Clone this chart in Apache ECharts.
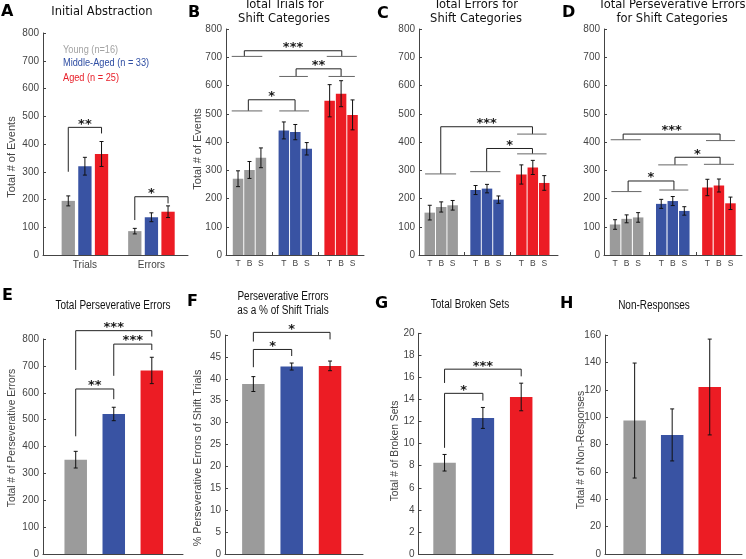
<!DOCTYPE html>
<html><head><meta charset="utf-8">
<script src="https://cdn.jsdelivr.net/npm/echarts@6/dist/echarts.min.js"></script>
<style>html,body{margin:0;padding:0;background:#fff}#c{width:746px;height:559px}</style>
</head><body><div id="c"></div>
<script>
// ---------- data ----------
const groupNames = ['Young (n=16)', 'Middle-Aged (n = 33)', 'Aged (n = 25)'];
const aCategories = ['Trials', 'Errors'];
const aTrialsMean = [195, 320, 364];
const aTrialsSem = [18, 32, 45];
const aErrorsMean = [86, 136, 156];
const aErrorsSem = [10, 16, 21];
const aSig = [[0, 2, 460, 300, 438, '**'], [4, 6, 210, 126, 186, '*']];

const shiftCats = ['T', 'B', 'S'];
const bMean = [[270, 301, 344], [441, 435, 376], [546, 571, 496]];
const bSem = [[28, 30, 35], [30, 27, 22], [57, 46, 53]];
const bSig = [
  [0.55, 9.06, 723, 703, 703, '***', [-0.55, 2.12], [7.75, 10.37]],
  [5.07, 9.0, 659, 632, 632, '**', [3.6, 6.1], [7.9, 10.2]],
  [0.9, 4.98, 549.5, 510, 510, '*', [-0.55, 2.12], [3.6, 6.2]]
];
const cMean = [[150, 170, 176], [230, 235, 196], [285, 310, 255]];
const cSem = [[26, 18, 17], [16, 15, 13], [34, 25, 26]];
const cSig = [
  [0.96, 8.97, 454, 287, 428, '***', [-0.41, 2.3], [7.63, 10.2]],
  [4.97, 8.97, 377, 295, 358, '*', [3.53, 6.17], [7.63, 10.2]]
];
const dMean = [[108, 128, 133], [181, 191, 156], [239, 246, 183]];
const dSem = [[17, 14, 17], [16, 16, 15], [29, 23, 22]];
const dSig = [
  [0.7, 9.1, 428, 408, 405, '***', [-0.38, 2.23], [7.88, 10.4]],
  [5.19, 9.1, 346, 319, 321, '*', [3.74, 6.29], [7.7, 10.3]],
  [1.13, 5.1, 262, 224.5, 230, '*', [-0.32, 2.29], [3.83, 6.35]]
];
const eMean = [351, 521, 683];
const eSem = [31, 25, 49];
const eSig = [[0, 1, 614, 438, 576, '**'], [1, 2, 781, 663, 759, '***'], [0, 2, 831, 685, 809, '***']];
const fMean = [38.8, 42.8, 42.95];
const fSem = [1.7, 0.8, 1.1];
const fSig = [[0, 1, 46.7, 42.65, 45.2, '*'], [0, 2, 50.6, 48.5, 49, '*']];
const gMean = [8.27, 12.33, 14.23];
const gSem = [0.75, 0.95, 1.25];
const gSig = [[0, 1, 14.56, 9.62, 13.9, '*'], [0, 2, 16.75, 15.5, 16.1, '***']];
const hMean = [97.5, 87, 122];
const hSem = [42, 19, 35];

// ---------- style ----------
const COLORS = ['#9b9b9b', '#3953a3', '#ec1c24'];
const LEG_COLORS = ['#a3a3a3', '#2f4ea3', '#e8202a'];
const AX = '#444';
const DARK = '#222';
const GROUPLINE = '#666';
const SANS = '"Liberation Sans",Arial,sans-serif';
const DEJA = '"DejaVu Sans",sans-serif';

function errRender(params, api) {
  const x = api.value(0), y = api.value(1), e = api.value(2);
  const t = api.coord([x, y + e]), b = api.coord([x, y - e]);
  const w = 2;
  const st = { stroke: '#111', lineWidth: 1 };
  return { type: 'group', children: [
    { type: 'line', shape: { x1: t[0], y1: t[1], x2: b[0], y2: b[1] }, style: st },
    { type: 'line', shape: { x1: t[0] - w, y1: t[1], x2: t[0] + w, y2: t[1] }, style: st },
    { type: 'line', shape: { x1: b[0] - w, y1: b[1], x2: b[0] + w, y2: b[1] }, style: st }
  ]};
}
function bracketRender(list) {
  return function (params, api) {
    const bk = list[params.dataIndex];
    const xa = bk[0], xb = bk[1], top = bk[2], ya = bk[3], yb = bk[4], label = bk[5];
    const P = (x, y) => api.coord([x, y]);
    const ch = [];
    const seg = (p, q, c) => ch.push({ type: 'line', shape: { x1: p[0], y1: p[1], x2: q[0], y2: q[1] }, style: { stroke: c, lineWidth: 1 } });
    seg(P(xa, ya), P(xa, top), DARK);
    seg(P(xa, top), P(xb, top), DARK);
    seg(P(xb, top), P(xb, yb), DARK);
    if (bk[6]) seg(P(bk[6][0], ya), P(bk[6][1], ya), GROUPLINE);
    if (bk[7]) seg(P(bk[7][0], yb), P(bk[7][1], yb), GROUPLINE);
    const m = P((xa + xb) / 2, top);
    ch.push({ type: 'text', x: m[0], y: m[1] - 3, style: { text: label, align: 'center', verticalAlign: 'middle', textAlign: 'center', textVerticalAlign: 'middle', font: 'bold 13px ' + DEJA, fill: '#1a1a1a' } });
    return { type: 'group', children: ch };
  };
}

const grids = [], xAxes = [], yAxes = [], series = [];
function addPanel(p) {
  const i = grids.length;
  grids.push({ left: p.rect[0], top: p.rect[1], width: p.rect[2], height: p.rect[3] });
  xAxes.push({
    gridIndex: i, type: 'value', min: p.xmin, max: p.xmax, splitLine: { show: false },
    axisLine: { onZero: false, lineStyle: { color: AX, width: 1 } },
    axisTick: { show: true, inside: true, length: 3, customValues: p.xticks, lineStyle: { color: AX } },
    axisLabel: p.xlabels ? { show: true, customValues: p.xlabels.values, formatter: p.xlabels.fmt, color: '#444', fontSize: p.xlabels.size, fontFamily: SANS, margin: p.xlabels.margin } : { show: false }
  });
  yAxes.push({
    gridIndex: i, type: 'value', min: 0, max: p.ymax, interval: p.yint, splitLine: { show: false },
    axisLine: { show: true, onZero: false, lineStyle: { color: AX, width: 1 } },
    axisTick: { show: true, inside: true, length: 3, lineStyle: { color: AX } },
    axisLabel: { color: '#444', fontSize: 10, fontFamily: SANS, margin: 4 }
  });
  series.push({ type: 'bar', xAxisIndex: i, yAxisIndex: i, barWidth: p.barW, silent: true,
    data: p.bars.map(b => ({ value: [b[0], b[1]], itemStyle: { color: COLORS[b[3]] } })) });
  series.push({ type: 'custom', xAxisIndex: i, yAxisIndex: i, renderItem: errRender, silent: true, z: 3,
    data: p.bars.map(b => [b[0], b[1], b[2]]) });
  if (p.sig) series.push({ type: 'custom', xAxisIndex: i, yAxisIndex: i, renderItem: bracketRender(p.sig), silent: true, z: 4,
    data: p.sig.map(b => [(b[0] + b[1]) / 2, b[2]]) });
}

// A
const aBars = [];
[aTrialsMean, aErrorsMean].forEach((means, c) => {
  const sems = c === 0 ? aTrialsSem : aErrorsSem;
  means.forEach((v, g) => aBars.push([c * 4 + g, v, sems[g], g]));
});
addPanel({ rect: [43, 33, 145, 222], xmin: -1.52, xmax: 7.2, ymax: 800, yint: 100, barW: 13.3, bars: aBars, sig: aSig,
  xticks: [1, 5], xlabels: { values: [1, 5], fmt: v => aCategories[Math.round((v - 1) / 4)], size: 10, margin: 5 } });

// B, C, D
function shiftBars(mean, sem) {
  const out = [];
  mean.forEach((arr, g) => arr.forEach((v, k) => out.push([g * 4 + k, v, sem[g][k], g])));
  return out;
}
const shiftLabels = { values: [0, 1, 2, 4, 5, 6, 8, 9, 10], fmt: v => shiftCats[Math.round(v) % 4], size: 8.5, margin: 4 };
addPanel({ rect: [226, 29, 138, 226], xmin: -1.05, xmax: 11.0, ymax: 800, yint: 100, barW: 10.5, bars: shiftBars(bMean, bSem), sig: bSig, xticks: [3, 7], xlabels: shiftLabels });
addPanel({ rect: [419, 29, 139, 226], xmin: -0.94, xmax: 11.2, ymax: 800, yint: 100, barW: 10.5, bars: shiftBars(cMean, cSem), sig: cSig, xticks: [3, 7], xlabels: shiftLabels });
addPanel({ rect: [604, 29, 138, 226], xmin: -0.96, xmax: 11.0, ymax: 800, yint: 100, barW: 10.5, bars: shiftBars(dMean, dSem), sig: dSig, xticks: [3, 7], xlabels: shiftLabels });

// E-H
function simpleBars(mean, sem) { return mean.map((v, g) => [g, v, sem[g], g]); }
addPanel({ rect: [43, 339, 140, 216], xmin: -0.86, xmax: 2.82, ymax: 800, yint: 100, barW: 22.5, bars: simpleBars(eMean, eSem), sig: eSig, xticks: [0, 1, 2] });
addPanel({ rect: [225, 335, 138, 220], xmin: -0.74, xmax: 2.86, ymax: 50, yint: 5, barW: 22.5, bars: simpleBars(fMean, fSem), sig: fSig, xticks: [0, 1, 2] });
addPanel({ rect: [418.5, 333.3, 134.5, 221.7], xmin: -0.68, xmax: 2.83, ymax: 20, yint: 2, barW: 22.5, bars: simpleBars(gMean, gSem), sig: gSig, xticks: [0, 1, 2] });
addPanel({ rect: [605, 335, 137, 220], xmin: -0.79, xmax: 2.86, ymax: 160, yint: 20, barW: 22.5, bars: simpleBars(hMean, hSem), xticks: [0, 1, 2] });

// ---------- texts ----------
function txt(text, x, y, font, fill, align, rot, sx) {
  return { type: 'text', x: x, y: y, rotation: rot || 0, scaleX: sx || 1, silent: true, z: 10,
    style: { text: text, font: font, fill: fill || '#111', align: align || 'center', verticalAlign: 'middle',
      textAlign: align || 'center', textVerticalAlign: 'middle' } };
}
const LETTER = 'bold 16px ' + DEJA;
const TOP = '11.5px ' + DEJA;
const BOT = '12.5px ' + SANS;
const NX = 0.8;
const graphics = [
  txt('A', 1, 12, LETTER, '#000', 'left'),
  txt('B', 188, 13, LETTER, '#000', 'left'),
  txt('C', 377, 14, LETTER, '#000', 'left'),
  txt('D', 562, 13, LETTER, '#000', 'left'),
  txt('E', 2, 296, LETTER, '#000', 'left'),
  txt('F', 187, 302, LETTER, '#000', 'left'),
  txt('G', 375, 304, LETTER, '#000', 'left'),
  txt('H', 560, 304, LETTER, '#000', 'left'),
  txt('Initial Abstraction', 102, 12.5, TOP),
  txt('Total Trials for', 284, 5, TOP),
  txt('Shift Categories', 284, 19, TOP),
  txt('Total Errors for', 476, 5, TOP),
  txt('Shift Categories', 476, 19, TOP),
  txt('Total Perseverative Errors', 672, 5, TOP),
  txt('for Shift Categories', 672, 19, TOP),
  txt('Total Perseverative Errors', 113, 306, BOT, '#111', 'center', 0, NX),
  txt('Perseverative Errors', 283, 297, BOT, '#111', 'center', 0, NX),
  txt('as a % of Shift Trials', 283, 311, BOT, '#111', 'center', 0, NX),
  txt('Total Broken Sets', 470, 305, BOT, '#111', 'center', 0, NX),
  txt('Non-Responses', 654, 306, BOT, '#111', 'center', 0, NX),
  txt(groupNames[0], 63, 50, '11.5px ' + SANS, LEG_COLORS[0], 'left', 0, NX),
  txt(groupNames[1], 63, 63, '11.5px ' + SANS, LEG_COLORS[1], 'left', 0, NX),
  txt(groupNames[2], 63, 78, '11.5px ' + SANS, LEG_COLORS[2], 'left', 0, NX),
  txt('Total # of Events', 12, 157, '11px ' + SANS, '#444', 'center', Math.PI / 2),
  txt('Total # of Events', 198, 149, '11px ' + SANS, '#444', 'center', Math.PI / 2),
  txt('Total # of Perseverative Errors', 12, 438, '10.3px ' + SANS, '#444', 'center', Math.PI / 2),
  txt('% Perseverative Errors of Shift Trials', 198, 458, '10.8px ' + SANS, '#444', 'center', Math.PI / 2),
  txt('Total # of Broken Sets', 395, 451, '10.3px ' + SANS, '#444', 'center', Math.PI / 2),
  txt('Total # of Non-Responses', 581, 450, '10.3px ' + SANS, '#444', 'center', Math.PI / 2)
];

const chart = echarts.init(document.getElementById('c'), null, { renderer: 'canvas', width: 746, height: 559 });
chart.setOption({
  animation: false,
  backgroundColor: '#fff',
  grid: grids, xAxis: xAxes, yAxis: yAxes, series: series,
  graphic: graphics
});
</script></body></html>
